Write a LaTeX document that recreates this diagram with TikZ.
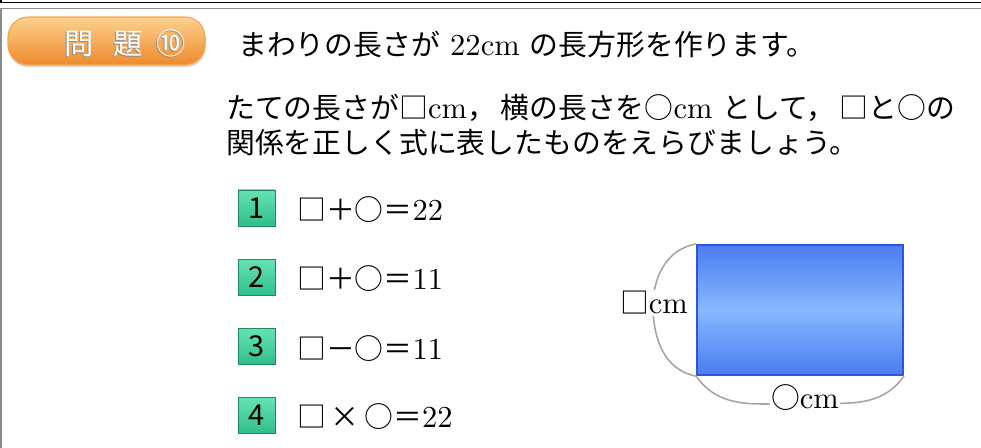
\documentclass[tikz,border=0pt]{standalone}
\usepackage{fontspec}
\setmainfont{lmroman10-regular.otf}
\newfontfamily\jp{Noto Sans CJK JP}[Scale=0.945]
\usetikzlibrary{shadows}

\definecolor{badgetop}{HTML}{FCD28E}
\definecolor{badgebot}{HTML}{EE8A2C}
\definecolor{badgeedge}{HTML}{F2A654}
\definecolor{numtop}{HTML}{66E2B4}
\definecolor{numbot}{HTML}{2EBF8C}
\definecolor{numedge}{HTML}{1E8A5E}
\definecolor{fieldtop}{HTML}{4A7CF0}
\definecolor{fieldmid}{HTML}{88B8FF}
\definecolor{fieldedge}{HTML}{2F55DC}
\definecolor{bracegray}{HTML}{A9A69C}
\definecolor{framegray}{HTML}{8C8C8C}

\tikzset{
	txt/.style={anchor=base west, inner sep=0pt, font=\fontsize{21.7}{24}\selectfont},
	badge/.style={rounded corners=0.5cm, minimum width=4.925cm, minimum height=1.2cm, top color=badgetop, bottom color=badgebot, draw=badgeedge, line width=0.8pt, drop shadow={shadow xshift=0.02cm, shadow yshift=-0.06cm, opacity=0.3}},
	badgetxt/.style={inner sep=0pt, text=white, font=\fontsize{22}{24}\selectfont\jp},
	numbox/.style={minimum width=0.925cm, minimum height=0.9cm, inner sep=0pt, top color=numtop, bottom color=numbot, draw=numedge, line width=0.7pt, font=\fontsize{21.7}{24}\selectfont\jp},
	field/.style={minimum width=5.15cm, minimum height=3.25cm, draw=fieldedge, line width=0.05cm, top color=fieldtop, bottom color=fieldtop, middle color=fieldmid},
	brace/.style={draw=bracegray, line width=0.04cm},
	lbl/.style={fill=white, inner sep=1pt, font=\fontsize{21.7}{24}\selectfont}
}

\begin{document}
\begin{tikzpicture}
		% Frame and heading:
		\useasboundingbox (0,0) rectangle (24.525,11.2);
		\draw[line width=0.04cm] (0.025,11.2) -- (0.025,11.1375) -- (24.525,11.1375);
		\draw[framegray, line width=0.03cm] (24.525,10.9875) -- (0.025,10.9875) -- (0.025,0);
		\node[badge] (badge) at (2.6625,10.175){};
		\node[badgetxt, text=black!45] (badgeshade) at (3.1,10.1){問\hspace{0.5cm}題\hspace{0.35cm}⑩};
		\node[badgetxt] (badgetext) at (3.125,10.125){問\hspace{0.5cm}題\hspace{0.35cm}⑩};
		% Question text:
		\node[txt] (line1) at (5.95, 9.8){{\jp まわりの長さが} 22cm {\jp の長方形を作ります。}};
		\node[txt] (line2) at (5.65, 8.225){{\jp たての長さが□}cm{\jp ，\hspace{0.12cm}横の長さを○}cm {\jp として，\hspace{0.12cm}□と○の}};
		\node[txt] (line3) at (5.65, 7.35){{\jp 関係を正しく式に表したものをえらびましょう。}};
		% Choices:
		\node[numbox] (num1) at (6.4125, 6.0){1};
		\node[numbox] (num2) at (6.4125, 4.2625){2};
		\node[numbox] (num3) at (6.4125, 2.5375){3};
		\node[numbox] (num4) at (6.4125, 0.8125){4};
		\node[txt] (eq1) at (7.425, 5.675){{\jp □＋○＝}22};
		\node[txt] (eq2) at (7.425, 3.95){{\jp □＋○＝}11};
		\node[txt] (eq3) at (7.425, 2.2){{\jp □－○＝}11};
		\node[txt] (eq4) at (7.425, 0.5){{\jp □\hspace{0.12cm}×\hspace{0.12cm}○＝}22};
		% Rectangle with its sides:
		\node[field] (field) at (20, 3.45){};
		\coordinate (sideL) at (16.325, 3.55);
		\coordinate (sideB) at (20.125, 1.125);
		\draw[brace] (field.north west) to[out=190, in=90] (sideL) to[out=-90, in=170] (field.south west);
		\draw[brace] (field.south west) to[out=-55, in=180] (sideB) to[out=0, in=-125] (field.south east);
		\node[lbl] (lblL) at (16.35, 3.625){{\jp □}cm};
		\node[lbl] (lblB) at (20.125, 1.25){{\jp ○}cm};
	\end{tikzpicture}
\end{document}
